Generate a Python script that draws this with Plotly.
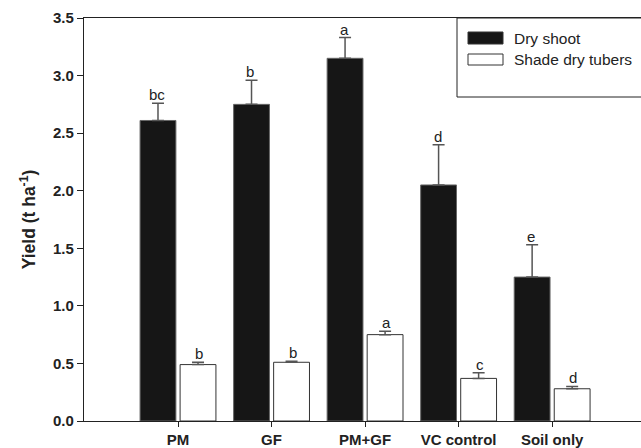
import plotly.graph_objects as go

categories = ["PM", "GF", "PM+GF", "VC control", "Soil only"]
dry_shoot = [2.61, 2.75, 3.15, 2.05, 1.25]
dry_shoot_err = [0.15, 0.21, 0.18, 0.35, 0.28]
dry_shoot_letters = ["bc", "b", "a", "d", "e"]
tubers = [0.49, 0.51, 0.75, 0.37, 0.28]
tubers_err = [0.02, 0.01, 0.03, 0.05, 0.02]
tubers_letters = ["b", "b", "a", "c", "d"]
y_ticks = [0.0, 0.5, 1.0, 1.5, 2.0, 2.5, 3.0, 3.5]

FONT = "Liberation Sans, Arial, Helvetica, sans-serif"
DARK = "#161616"
FS = 15

fig = go.Figure()
fig.add_trace(go.Bar(
    x=categories, y=dry_shoot, name="Dry shoot",
    marker=dict(color=DARK, line=dict(color="#666666", width=1)),
    error_y=dict(type="data", array=dry_shoot_err, arrayminus=[0]*5, symmetric=False,
                 color="#555555", thickness=1.5, width=6),
    offsetgroup="a", showlegend=False,
))
fig.add_trace(go.Bar(
    x=categories, y=tubers, name="Shade dry tubers",
    marker=dict(color="white", line=dict(color="#333333", width=1)),
    error_y=dict(type="data", array=tubers_err, arrayminus=[0]*5, symmetric=False,
                 color="#555555", thickness=1.5, width=6),
    offsetgroup="b", showlegend=False,
))

ann = []
for i, c in enumerate(categories):
    ann.append(dict(x=i - 0.225, y=dry_shoot[i] + dry_shoot_err[i], xref="x", yref="y",
                    text=dry_shoot_letters[i], showarrow=False, yanchor="bottom",
                    yshift=-2, font=dict(family=FONT, size=FS, color="#222")))
    ann.append(dict(x=i + 0.225, y=tubers[i] + tubers_err[i], xref="x", yref="y",
                    text=tubers_letters[i], showarrow=False, yanchor="bottom",
                    yshift=-2, font=dict(family=FONT, size=FS, color="#222")))

# custom legend
W, H = 641, 448
L, R, T, B = 84, 0, 18, 27
pw, ph = W - L - R, H - T - B
def px(x):
    return (x - L) / pw
def py(y):
    return (H - B - y) / ph

shapes = [
    dict(type="rect", xref="paper", yref="paper", x0=px(457), x1=px(660), y0=py(97), y1=py(18),
         line=dict(color="#222", width=1), fillcolor="rgba(0,0,0,0)"),
    dict(type="rect", xref="paper", yref="paper", x0=px(468), x1=px(503), y0=py(44), y1=py(32),
         line=dict(color="#333", width=1), fillcolor=DARK),
    dict(type="rect", xref="paper", yref="paper", x0=px(468), x1=px(503), y0=py(65), y1=py(54),
         line=dict(color="#333", width=1), fillcolor="white"),
]
ann.append(dict(x=px(512), y=py(38), xref="paper", yref="paper", text="Dry shoot",
                showarrow=False, xanchor="left", yanchor="middle",
                font=dict(family=FONT, size=15.5, color="#222")))
ann.append(dict(x=px(512), y=py(60), xref="paper", yref="paper", text="Shade dry tubers",
                showarrow=False, xanchor="left", yanchor="middle",
                font=dict(family=FONT, size=15.5, color="#222")))

fig.update_layout(
    width=W, height=H,
    margin=dict(l=L, r=R, t=T, b=B),
    paper_bgcolor="white", plot_bgcolor="white",
    barmode="group", bargap=0.144, bargroupgap=0.105,
    annotations=ann, shapes=shapes,
    font=dict(family=FONT, size=FS, color="#222"),
)
fig.update_xaxes(
    range=[-1.005, 4.95], showline=True, linecolor="#222", linewidth=1.2, mirror=True,
    ticks="outside", ticklen=5, tickcolor="#222", showgrid=False,
    tickfont=dict(family=FONT, size=FS, color="#222", weight="bold"),
)
fig.update_yaxes(
    range=[0, 3.5], tickvals=y_ticks, ticktext=[f"{v:.1f}" for v in y_ticks],
    showline=True, linecolor="#222", linewidth=1.2, ticks="outside", ticklen=6,
    tickcolor="#222", showgrid=False, zeroline=False,
    tickfont=dict(family=FONT, size=FS, color="#222", weight="bold"),
    title=dict(text="<b>Yield (t ha<sup>-1</sup>)</b>", font=dict(family=FONT, size=17.5, color="#222"),
               standoff=12),
)

fig.write_html("out.html")
